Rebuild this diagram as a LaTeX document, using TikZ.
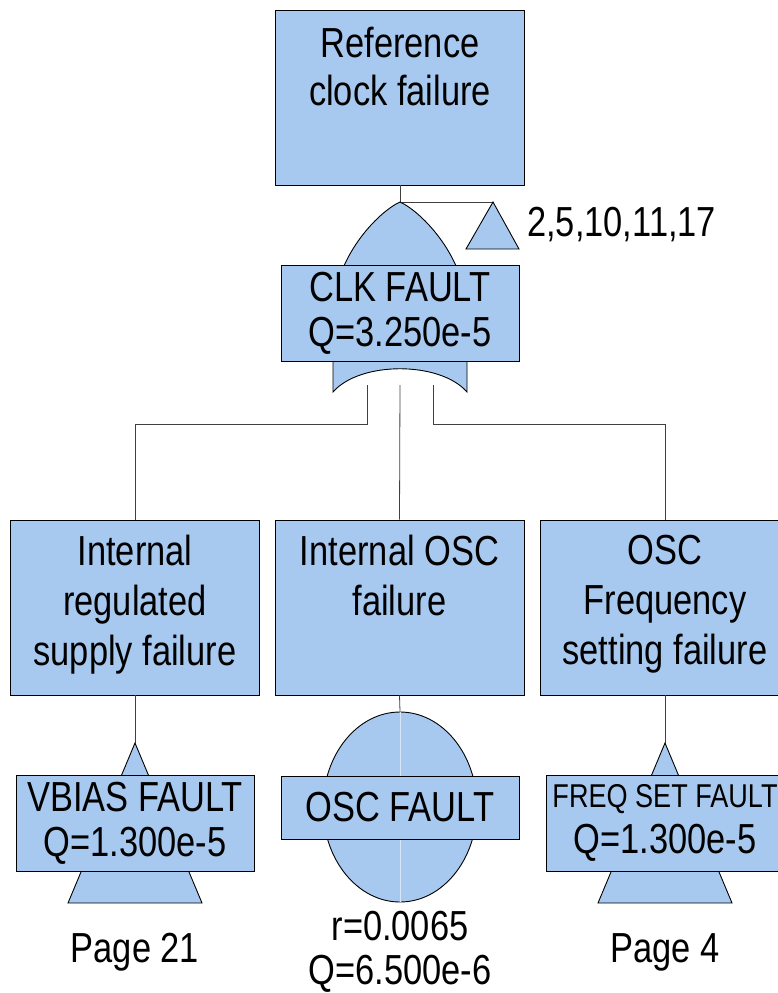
\documentclass[tikz,border=0pt]{standalone}
\usepackage{fontspec}
\setmainfont{Liberation Sans}[FakeStretch=0.82]
\usetikzlibrary{positioning,shapes.geometric}

\definecolor{ftblue}{RGB}{168,201,239}
\newcommand\bigtxt{\fontsize{42}{50}\selectfont}
\newcommand\gatetxt{\fontsize{42}{45}\selectfont}

\tikzset{
    ftshape/.style = {draw=black, fill=ftblue, line width=0.9pt},
    evbox/.style = {ftshape, minimum width=249pt, minimum height=175pt, inner sep=0pt},
    gatebox/.style = {ftshape, minimum width=238pt, minimum height=96pt, inner sep=0pt,
        align=center, font=\gatetxt},
    lbl/.style = {align=center, inner sep=0pt, font=\bigtxt},
    conn/.style = {draw=black!75, line width=0.8pt}
}

\begin{document}
\begin{tikzpicture}[x=1pt, y=-1pt]
    \useasboundingbox (0,0) rectangle (777,993);

    % events
    \node[evbox] (top) at (400,97.5) {};
    \node[lbl, font=\fontsize{42}{48}\selectfont, below=17pt of top.north] (toptxt) {Reference\\clock failure};
    \node[evbox] (reg) at (135,607.5) {};
    \node[lbl, below=15pt of reg.north] (regtxt) {Internal\\regulated\\supply failure};
    \node[evbox] (osc) at (399.5,607.5) {};
    \node[lbl, below=15pt of osc.north] (osctxt) {Internal OSC\\failure};
    \node[evbox] (freq) at (665,607.5) {};
    \node[lbl, below=15pt of freq.north] (freqtxt) {OSC\\Frequency\\setting failure};

    % gate and transfer points
    \coordinate (gapex) at (400,202);
    \coordinate (gl) at (367,385);
    \coordinate (gm) at (400,385);
    \coordinate (gr) at (433,385);
    \coordinate (tin) at (493,202);
    \coordinate (tleft) at (135,743);
    \coordinate (tright) at (665,743);
    \coordinate (tlbase) at (135,903);
    \coordinate (trbase) at (665,903);

    \draw[conn] (top.south) -- (gapex) -- (tin);
    \draw[conn] (gl) -- ++(0,39) -| (reg.north);
    \draw[conn] (gm) -- (osc.north);
    \draw[conn] (gr) -- ++(0,39) -| (freq.north);
    \draw[conn] (reg.south) -- (tleft);
    \draw[conn] (freq.south) -- (tright);

    % OR gate
    \draw[ftshape] (333,392) -- (333,315) .. controls (333,258) and (378,212) .. (gapex)
        .. controls (422,212) and (467,258) .. (467,315) -- (467,392)
        .. controls (440,361) and (360,361) .. cycle;
    \node[gatebox] (clk) at (400,313) {CLK FAULT\\Q=3.250e-5};

    % transfer in
    \draw[ftshape] (tin) -- (519,249) -- (466,249) -- cycle;
    \node[lbl, anchor=west] (tinlbl) at (527,225) {2,5,10,11,17};

    % transfer triangles
    \draw[ftshape] (tleft) -- ++(67,160) -- ++(-134,0) -- cycle;
    \node[gatebox] (vbias) at (135,823) {VBIAS FAULT\\Q=1.300e-5};
    \node[lbl, below=30pt of tlbase] (pg21) {Page 21};

    \draw[ftshape] (tright) -- ++(67,160) -- ++(-134,0) -- cycle;
    \node[gatebox] (freqset) at (665,823) {{\fontsize{33}{38}\selectfont FREQ SET FAULT}\\[1pt]Q=1.300e-5};
    \node[lbl, below=30pt of trbase] (pg4) {Page 4};

    % basic event
    \node[ftshape, ellipse, minimum width=154pt, minimum height=190pt, inner sep=0pt] (oscev) at (400,807) {};
    \draw[conn] (osc.south) -- (oscev.north);
    \draw[white!55!ftblue, line width=0.6pt] (oscev.north) -- (oscev.south);
    \node[gatebox, minimum height=63pt] (oscf) at (400,807.5) {OSC FAULT};
    \node[lbl, font=\fontsize{42}{44}\selectfont, below=9pt of oscev.south] (oscq) {r=0.0065\\Q=6.500e-6};
\end{tikzpicture}
\end{document}
